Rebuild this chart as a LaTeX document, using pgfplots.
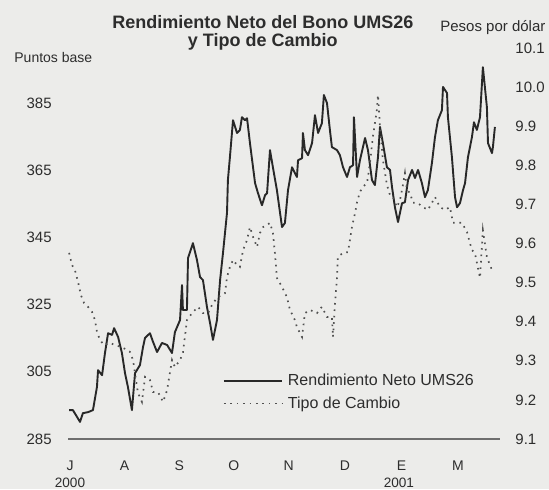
\documentclass[border=0pt]{standalone}
\usepackage{fontspec}
\setmainfont{Liberation Sans}
\usepackage{pgfplots}
\pgfplotsset{compat=1.18}
\definecolor{bgcol}{RGB}{236,236,234}
\definecolor{inkc}{RGB}{40,40,40}
\definecolor{dotc}{RGB}{80,80,80}
\definecolor{txtc}{RGB}{45,45,45}
\definecolor{basec}{RGB}{110,110,110}
\begin{document}
\begin{tikzpicture}
\useasboundingbox (-34pt,-25pt) rectangle (240.5pt,219.5pt);
\fill[bgcol] (-34pt,-25pt) rectangle (240.5pt,219.5pt);
\pgfplotsset{
  common/.style={
    width=216pt, height=195.5pt, scale only axis,
    at={(0,0)}, anchor=south west,
    xmin=-1.1, xmax=236.1,
    major tick length=0pt, tick style={draw=none},
    /pgf/number format/assume math mode=true,
    tick label style={font=\fontsize{7.5}{9}\selectfont, text=txtc, inner sep=0pt},
  }
}
\begin{axis}[common,
  axis lines*=left,
  y axis line style={draw=none},
  x axis line style={draw=basec, line width=0.9pt},
  ymin=285, ymax=401.4,
  ytick={285,305,325,345,365,385},
  yticklabel style={anchor=east, xshift=-8pt},
  xtick={0,30,60,90,120,151,182,213},
  xticklabels={J,A,S,O,N,D,E,M},
  xticklabel style={anchor=north, yshift=-10.5pt, font=\fontsize{7}{8}\selectfont},
  clip=false,
]
\addplot[inkc, line width=0.95pt, line join=round] coordinates {
(-0.5,293.6) (1.6,293.6) (5.5,290.1) (7.1,292.7) (9.9,293.0) (12.6,293.6)
(14.8,300.5) (15.4,305.5) (17.6,304.0) (19.2,310.6) (20.9,316.5) (23.1,316.0)
(24.2,318.0) (26.4,315.4) (28.5,310.6) (30.2,304.6) (31.8,300.5) (34.0,293.6)
(35.7,304.6) (38.4,307.0) (40.1,312.4) (41.2,315.1) (43.9,316.5) (45.6,313.9)
(47.8,310.9) (50.5,313.6) (53.3,313.0) (56.0,310.6) (57.6,316.8) (60.4,320.4)
(61.5,330.8) (62.0,323.4) (64.2,323.4) (64.8,338.9) (67.5,343.3) (69.7,338.3)
(71.4,333.2) (73.0,332.3) (75.2,324.3) (76.9,319.5) (78.5,314.5) (80.7,320.4)
(82.4,332.3) (84.0,340.4) (86.2,352.3) (86.7,362.1) (87.8,368.9) (89.5,379.9)
(91.7,376.1) (93.3,377.0) (94.4,380.8) (96.1,379.9) (97.2,380.5) (98.8,373.1)
(101.6,361.2) (103.2,358.2) (105.4,354.6) (107.1,357.6) (108.2,358.2) (109.8,371.0)
(111.4,365.9) (113.6,359.1) (116.4,348.1) (118.0,349.3) (119.7,359.1) (121.9,365.9)
(124.6,363.0) (125.2,368.0) (127.4,368.6) (127.9,376.1) (129.0,371.0) (130.7,369.5)
(132.9,373.1) (134.5,381.4) (136.2,376.1) (138.3,379.0) (139.4,387.4) (141.1,385.0)
(142.7,377.0) (143.8,371.9) (146.6,371.0) (148.2,369.5) (149.9,365.9) (152.1,363.0)
(153.7,365.9) (155.4,366.5) (155.9,380.8) (157.6,363.0) (159.2,368.0) (162.0,374.6)
(163.6,371.0) (165.8,362.1) (167.4,360.6) (169.1,368.9) (170.2,377.9) (171.8,373.1)
(174.0,365.9) (175.7,365.1) (176.8,360.0) (178.4,354.0) (180.1,349.6) (182.3,355.2)
(183.9,355.5) (185.6,362.1) (187.8,365.1) (189.4,362.7) (191.1,365.1) (193.2,361.2)
(194.9,357.0) (196.5,359.1) (198.7,367.1) (200.4,374.9) (202.0,379.9) (204.2,382.9)
(204.8,389.8) (207.0,388.0) (207.5,380.8) (209.7,368.9) (211.4,357.0) (212.5,354.0)
(214.1,355.2) (215.8,359.1) (216.9,361.2) (218.5,368.9) (220.7,374.9) (221.8,379.3)
(223.4,377.0) (225.1,380.8) (226.7,395.7) (228.9,383.8) (229.5,373.1) (231.7,370.1)
(232.2,371.9) (233.3,377.9)
};
% year labels and titles
\node[font=\fontsize{6.8}{8}\selectfont, text=txtc] at (axis cs:0,285) [yshift=-22pt] {2000};
\node[font=\fontsize{6.8}{8}\selectfont, text=txtc] at (axis cs:180.6,285) [yshift=-22pt] {2001};
\node[font=\bfseries\fontsize{9}{11}\selectfont, text=txtc, anchor=base, inner sep=0pt] at (rel axis cs:0.451,1.051) {Rendimiento Neto del Bono UMS26};
\node[font=\bfseries\fontsize{9}{11}\selectfont, text=txtc, anchor=base, inner sep=0pt] at (rel axis cs:0.451,1.005) {y Tipo de Cambio};
\node[font=\fontsize{7}{8}\selectfont, text=txtc, anchor=base west, inner sep=0pt] at (rel axis cs:-0.125,0.964) {Puntos base};
\node[font=\fontsize{7.5}{9}\selectfont, text=txtc, anchor=base east, inner sep=0pt] at (rel axis cs:1.106,1.041) {Pesos por dólar};
\end{axis}
\begin{axis}[common,
  axis y line*=right,
  axis x line=none,
  y axis line style={draw=none},
  xtick=\empty,
  ymin=9.1, ymax=10.1,
  ytick={9.1,9.2,9.3,9.4,9.5,9.6,9.7,9.8,9.9,10.0,10.1},
  yticklabel style={anchor=west, xshift=7.5pt, /pgf/number format/.cd, fixed, fixed zerofill, precision=1},
  legend style={at={(0.344,0.178)}, anchor=north west, draw=none, fill=none,
    font=\fontsize{8}{9.5}\selectfont, text=txtc, row sep=3.5pt,
    nodes={inner sep=0pt, text height=6pt, text depth=1.6pt}},
  legend cell align=left,
  legend image code/.code={\draw[#1] (0pt,0pt) -- (29pt,0pt);},
  /tikz/every odd column/.append style={column sep=2.5pt},
]
\addlegendimage{inkc, line width=0.95pt}
\addlegendentry{Rendimiento Neto UMS26}
\addplot[dotc, line width=0.85pt, dash pattern=on 0.8pt off 2.4pt] coordinates {
(-0.5,9.576) (1.1,9.545) (2.7,9.532) (4.4,9.502) (6.0,9.468) (7.7,9.448)
(9.9,9.438) (12.1,9.425) (13.7,9.404) (14.8,9.374) (16.5,9.353) (18.7,9.340)
(22.0,9.346) (24.7,9.340) (28.5,9.335) (32.9,9.323) (34.6,9.302) (37.3,9.218)
(39.5,9.195) (41.2,9.259) (43.9,9.251) (45.6,9.220) (48.3,9.220) (51.1,9.195)
(53.3,9.225) (56.0,9.302) (57.6,9.284) (60.4,9.302) (62.0,9.320) (64.2,9.404)
(67.0,9.422) (70.3,9.438) (73.0,9.422) (75.8,9.422) (78.5,9.448) (81.3,9.463)
(85.1,9.473) (86.2,9.514) (87.8,9.540) (89.5,9.558) (91.7,9.545) (93.3,9.540)
(95.0,9.583) (97.2,9.609) (98.8,9.642) (100.5,9.617) (102.7,9.591) (104.3,9.627)
(106.0,9.642) (108.2,9.647) (109.8,9.653) (111.4,9.627) (112.5,9.576) (113.6,9.512)
(116.4,9.489) (119.1,9.463) (120.8,9.430) (123.5,9.404) (124.6,9.386) (127.4,9.361)
(129.0,9.422) (131.8,9.430) (135.6,9.422) (138.3,9.438) (141.1,9.412) (143.8,9.412)
(144.4,9.361) (145.5,9.448) (146.6,9.514) (147.1,9.566) (149.9,9.576) (152.6,9.578)
(153.7,9.609) (154.8,9.642) (156.5,9.678) (157.6,9.706) (159.2,9.732) (160.9,9.745)
(163.1,9.755) (164.7,9.806) (166.3,9.873) (168.5,9.942) (169.1,9.980) (170.2,9.898)
(171.8,9.814) (174.0,9.750) (175.7,9.724) (177.3,9.719) (179.5,9.693) (181.2,9.711)
(182.8,9.750) (183.9,9.780) (185.0,9.737) (186.7,9.729) (188.3,9.704) (190.5,9.704)
(192.2,9.699) (193.8,9.693) (196.5,9.686) (198.7,9.704) (200.4,9.719) (203.1,9.693)
(205.9,9.686) (208.6,9.693) (210.3,9.653) (213.0,9.653) (215.2,9.653) (218.0,9.629)
(219.6,9.601) (220.7,9.583) (222.3,9.576) (225.1,9.512) (226.7,9.634) (228.9,9.565)
(231.7,9.532)
};
\addlegendentry{Tipo de Cambio}
\end{axis}
\end{tikzpicture}
\end{document}
